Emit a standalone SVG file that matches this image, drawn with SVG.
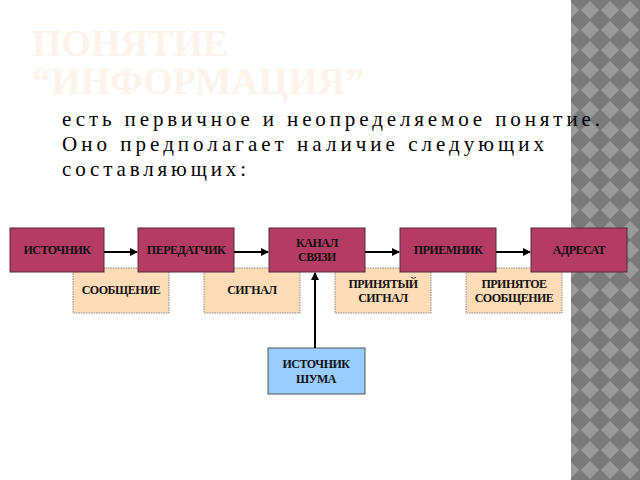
<svg xmlns="http://www.w3.org/2000/svg" width="640" height="480" viewBox="0 0 640 480">
<style>
.m{fill:#b33b64;stroke:#5a2a3a;stroke-width:1}
.o{fill:#fedcb8;stroke:#888;stroke-width:1;stroke-dasharray:1.5 1}
.b{fill:#99ccff;stroke:#555;stroke-width:1}
.t{font-family:"Liberation Serif","DejaVu Serif",serif;font-size:12px;font-weight:bold;fill:#111;text-anchor:middle;letter-spacing:-0.5px}
.c{stroke:#000;stroke-width:2;fill:none;marker-end:url(#a)}
.h{font-family:"Liberation Serif","DejaVu Serif",serif;font-size:38px;font-weight:bold;fill:#fdf3ea}
.p{font-family:"Liberation Serif","DejaVu Serif",serif;font-size:21px;fill:#000}
</style>
<defs>
<marker id="a" markerWidth="8" markerHeight="8" refX="7" refY="4" orient="auto" markerUnits="userSpaceOnUse"><path d="M0,0L8,4L0,8z" fill="#000"/></marker>
<pattern id="d" width="20" height="20" patternUnits="userSpaceOnUse"><rect width="20" height="20" fill="#7a7a7a"/><path d="M10,1L19,10L10,19L1,10z" fill="#9a9a9a"/></pattern>
</defs>
<rect width="640" height="480" fill="#fff"/>
<rect x="571" y="0" width="69" height="480" fill="url(#d)"/>
<text class="h" x="32" y="56">ПОНЯТИЕ</text><text class="h" x="32" y="94">“ИНФОРМАЦИЯ”</text>
<text class="p" x="62" y="126" textLength="538">есть первичное и неопределяемое понятие.</text><text class="p" x="62" y="151" textLength="482">Оно предполагает наличие следующих</text><text class="p" x="62" y="176" textLength="184">составляющих:</text>
<g id="n-msg"><rect class="o" x="73" y="268" width="96" height="45"/><text class="t" x="121" y="294">СООБЩЕНИЕ</text></g>
<g id="n-sig"><rect class="o" x="204" y="268" width="96" height="45"/><text class="t" x="252" y="294">СИГНАЛ</text></g>
<g id="n-rsig"><rect class="o" x="335" y="268" width="96" height="45"/><text class="t" x="383" y="288">ПРИНЯТЫЙ</text><text class="t" x="383" y="302">СИГНАЛ</text></g>
<g id="n-rmsg"><rect class="o" x="466" y="268" width="96" height="45"/><text class="t" x="514" y="288">ПРИНЯТОЕ</text><text class="t" x="514" y="302">СООБЩЕНИЕ</text></g>
<g id="n-src"><rect class="m" x="10" y="228" width="94" height="44"/><text class="t" x="57" y="254">ИСТОЧНИК</text></g>
<g id="n-tx"><rect class="m" x="138" y="228" width="96" height="44"/><text class="t" x="186" y="254">ПЕРЕДАТЧИК</text></g>
<g id="n-ch"><rect class="m" x="269" y="228" width="96" height="44"/><text class="t" x="317" y="247">КАНАЛ</text><text class="t" x="317" y="261">СВЯЗИ</text></g>
<g id="n-rx"><rect class="m" x="400" y="228" width="96" height="44"/><text class="t" x="448" y="254">ПРИЕМНИК</text></g>
<g id="n-dst"><rect class="m" x="531" y="228" width="96" height="44"/><text class="t" x="579" y="254">АДРЕСАТ</text></g>
<g id="n-noise"><rect class="b" x="268" y="348" width="97" height="46"/><text class="t" x="316" y="368">ИСТОЧНИК</text><text class="t" x="316" y="383">ШУМА</text></g>
<g id="connectors">
<line class="c" x1="104" y1="252" x2="137" y2="252"/>
<line class="c" x1="234" y1="252" x2="268" y2="252"/>
<line class="c" x1="365" y1="252" x2="399" y2="252"/>
<line class="c" x1="496" y1="252" x2="530" y2="252"/>
<line class="c" x1="315" y1="348" x2="315" y2="273"/>
</g>
</svg>
